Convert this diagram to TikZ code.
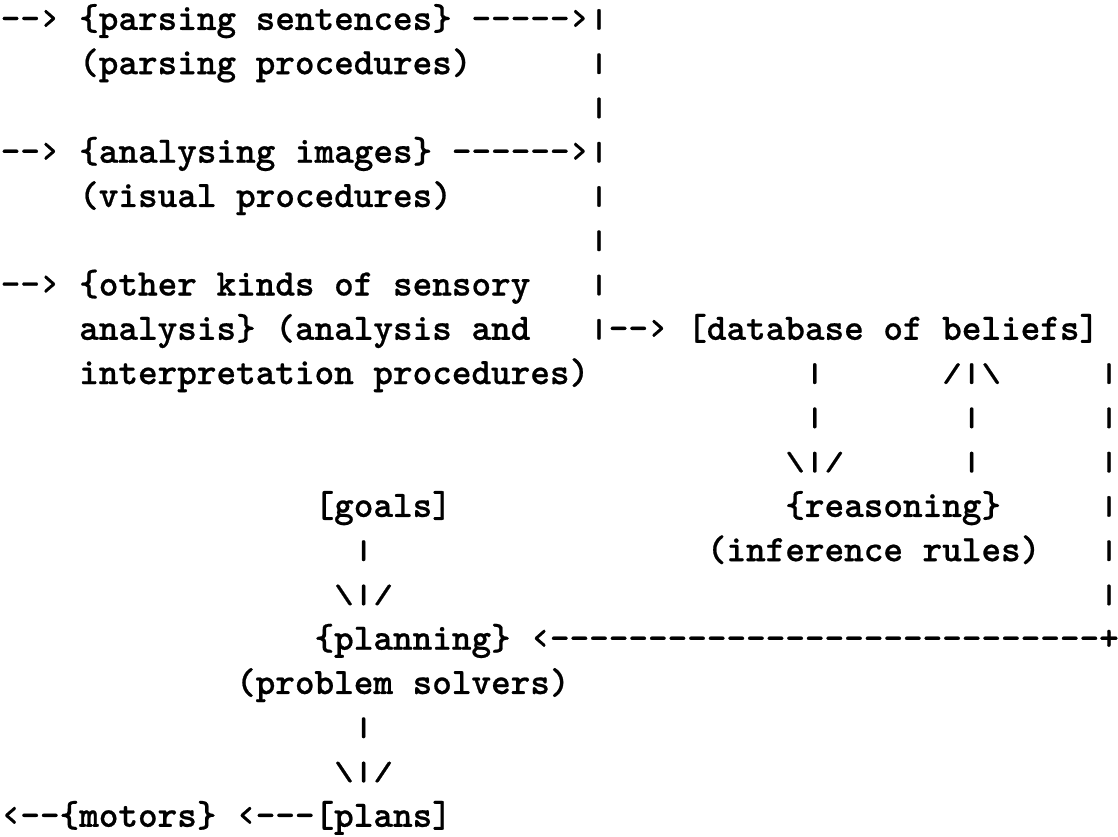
\documentclass[tikz,border=0pt]{standalone}
\usepackage{fontspec}
\setmonofont{lmmonolt10-bold.otf}[FakeBold=0.6]
\usepackage{graphicx}
\usepackage{tikz}
\newcommand{\vln}{\raisebox{0.6pt}{\scalebox{1}[0.72]{|}}}
\newcommand{\fsl}{\raisebox{0.6pt}{\scalebox{1}[0.72]{/}}}
\newcommand{\bsl}{\raisebox{0.6pt}{\scalebox{1}[0.72]{\textbackslash}}}
\begin{document}
\begin{tikzpicture}[x=5.25pt, y=-11.85pt,
  tt/.style={anchor=base west, inner sep=0pt, font=\ttfamily}]
  \useasboundingbox (0,-0.675) rectangle (57,18.23);
  \node[tt] (in1) at (0,0) {--›};
  \node[tt] (parse) at (4,0) {\{parsing sentences\}};
  \node[tt] (out1) at (24,0) {-----›\vln};
  \node[tt] (parsep) at (4,1) {(parsing procedures)};
  \node[tt] (in2) at (0,3) {--›};
  \node[tt] (image) at (4,3) {\{analysing images\}};
  \node[tt] (out2) at (23,3) {------›\vln};
  \node[tt] (visp) at (4,4) {(visual procedures)};
  \node[tt] (in3) at (0,6) {--›};
  \node[tt] (other) at (4,6) {\{other kinds of sensory};
  \node[tt] (other2) at (4,7) {analysis\} (analysis and};
  \node[tt] (other3) at (4,8) {interpretation procedures)};
  \foreach \r in {1,2,4,5,6}
    \node[tt] (bus\r) at (30,\r) {\vln};
  \node[tt] (out3) at (30,7) {\vln--›};
  \node[tt] (db) at (35,7) {[database of beliefs]};
  \node[tt] (down1) at (41,8) {\vln};
  \node[tt] (down2) at (41,9) {\vln};
  \node[tt] (down3) at (40,10) {\bsl\vln\fsl};
  \node[tt] (up1) at (48,8) {\fsl\vln\bsl};
  \node[tt] (up2) at (49,9) {\vln};
  \node[tt] (up3) at (49,10) {\vln};
  \node[tt] (reason) at (40,11) {\{reasoning\}};
  \node[tt] (rules) at (36,12) {(inference rules)};
  \foreach \r in {8,...,13}
    \node[tt] (back\r) at (56,\r) {\vln};
  \node[tt] (goals) at (16,11) {[goals]};
  \node[tt] (g1) at (18,12) {\vln};
  \node[tt] (g2) at (17,13) {\bsl\vln\fsl};
  \node[tt] (plan) at (16,14) {\{planning\}};
  \node[tt] (back) at (27,14) {‹----------------------------+};
  \node[tt] (solvers) at (12,15) {(problem solvers)};
  \node[tt] (p1) at (18,16) {\vln};
  \node[tt] (p2) at (17,17) {\bsl\vln\fsl};
  \node[tt] (out4) at (0,18) {‹--};
  \node[tt] (motors) at (3,18) {\{motors\}};
  \node[tt] (out5) at (12,18) {‹---};
  \node[tt] (plans) at (16,18) {[plans]};
\end{tikzpicture}
\end{document}
